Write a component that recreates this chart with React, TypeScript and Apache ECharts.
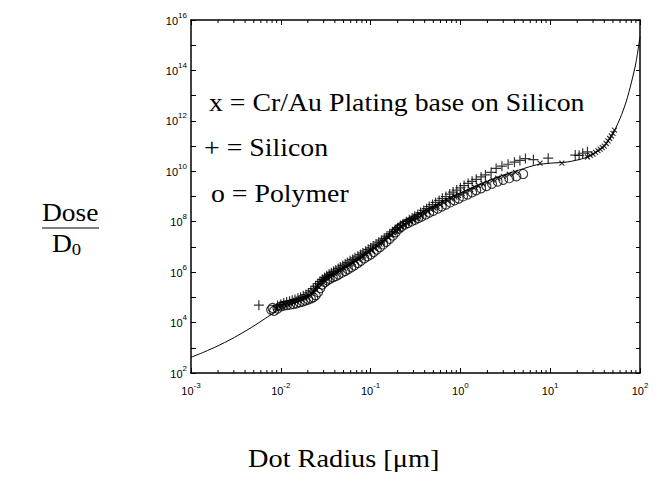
import React, { useEffect, useRef } from "react";
import * as echarts from "echarts";

// Solid curve (Dot radius [µm], Dose/D0)
const curveX = [0.001, 0.0014, 0.002, 0.0028, 0.004, 0.0056, 0.008, 0.01, 0.014, 0.02, 0.025, 0.03, 0.04, 0.05, 0.07, 0.1, 0.14, 0.2, 0.3, 0.5, 0.7, 1, 1.5, 2, 3, 5, 7, 10, 15, 20, 25, 30, 40, 50, 60, 70, 80, 90, 100];
const curveY = [4.2e2, 6.8e2, 1.2e3, 2.2e3, 4.5e3, 9.5e3, 2.2e4, 3.5e4, 5.8e4, 1e5, 1.9e5, 3.8e5, 8e5, 1.4e6, 2.8e6, 7e6, 1.8e7, 5.6e7, 1.4e8, 4e8, 8e8, 1.4e9, 2.6e9, 4e9, 7e9, 1.26e10, 1.8e10, 2.1e10, 2.3e10, 2.8e10, 3.5e10, 4.8e10, 1e11, 3.2e11, 1.26e12, 5.6e12, 3.2e13, 2e14, 2.2e15];

// x = Cr/Au Plating base on Silicon
const crAuX = [0.0088, 0.0095, 0.0102, 0.011, 0.0118, 0.0127, 0.0136, 0.0146, 0.0157, 0.0168, 0.018, 0.0192, 0.0205, 0.0218, 0.023, 0.0243, 0.0256, 0.027, 0.0285, 0.03, 0.0316, 0.0333, 0.035, 0.037, 0.039, 0.041, 0.044, 0.047, 0.05, 0.053, 0.056, 0.06, 0.064, 0.068, 0.073, 0.078, 0.083, 0.089, 0.095, 0.102, 0.11, 0.118, 0.127, 0.136, 0.146, 0.157, 0.168, 0.18, 0.193, 0.207, 0.222, 0.238, 0.255, 0.275, 0.295, 0.32, 0.345, 0.37, 0.4, 0.43, 0.47, 0.51, 0.55, 0.6, 0.66, 0.72, 0.79, 0.87, 0.95, 1.05, 1.15, 1.3, 1.45, 1.6, 1.8, 2.0, 2.3, 2.6, 3.0, 3.5, 4.1, 7.7, 13.5, 26, 28, 30, 32, 34, 36, 38, 40, 42, 44, 46, 48, 50, 52];
const crAuY = [3.8e4, 4.3e4, 4.6e4, 5.2e4, 5.5e4, 6e4, 6.6e4, 7.2e4, 7.8e4, 8.6e4, 9.5e4, 1.05e5, 1.2e5, 1.45e5, 1.75e5, 2.2e5, 2.8e5, 3.5e5, 4.2e5, 5e5, 5.8e5, 6.5e5, 7.2e5, 8e5, 9e5, 1e6, 1.15e6, 1.3e6, 1.45e6, 1.65e6, 1.85e6, 2.1e6, 2.4e6, 2.8e6, 3.2e6, 3.8e6, 4.4e6, 5.2e6, 6.2e6, 7.2e6, 8.8e6, 1.05e7, 1.3e7, 1.55e7, 1.9e7, 2.4e7, 2.9e7, 3.6e7, 4.4e7, 5.4e7, 6.4e7, 7.6e7, 8.8e7, 1.02e8, 1.18e8, 1.35e8, 1.55e8, 1.8e8, 2.1e8, 2.5e8, 3e8, 3.5e8, 4.1e8, 4.8e8, 5.8e8, 6.8e8, 8e8, 9.5e8, 1.1e9, 1.3e9, 1.55e9, 1.9e9, 2.3e9, 2.7e9, 3.2e9, 3.7e9, 4.5e9, 5.3e9, 6.3e9, 7.6e9, 9e9, 2.1e10, 2.1e10, 3.7e10, 4.3e10, 4.8e10, 5.6e10, 6.6e10, 7.6e10, 8.7e10, 1e11, 1.26e11, 1.6e11, 2e11, 2.5e11, 3.2e11, 4.3e11];

// + = Silicon
const siX = [0.0057, 0.0092, 0.01, 0.0108, 0.0116, 0.0125, 0.0134, 0.0144, 0.0155, 0.0166, 0.0178, 0.019, 0.0203, 0.0216, 0.023, 0.0244, 0.0258, 0.0273, 0.029, 0.0307, 0.0325, 0.0345, 0.0365, 0.0387, 0.041, 0.0435, 0.046, 0.049, 0.052, 0.055, 0.059, 0.063, 0.067, 0.072, 0.077, 0.082, 0.088, 0.094, 0.1, 0.107, 0.115, 0.123, 0.132, 0.142, 0.152, 0.163, 0.175, 0.188, 0.2, 0.215, 0.23, 0.25, 0.27, 0.29, 0.31, 0.335, 0.36, 0.39, 0.42, 0.45, 0.49, 0.53, 0.58, 0.63, 0.69, 0.76, 0.83, 0.91, 1.0, 1.1, 1.22, 1.35, 1.5, 1.7, 1.9, 2.2, 2.5, 2.9, 3.4, 4.0, 4.6, 5.3, 6.5, 9.5, 19, 21, 23, 26];
const siY = [4.9e4, 4.8e4, 5.3e4, 6e4, 6.5e4, 7e4, 7.6e4, 8.3e4, 9.2e4, 1.02e5, 1.15e5, 1.3e5, 1.5e5, 1.8e5, 2.2e5, 2.8e5, 3.5e5, 4.3e5, 5.2e5, 6.2e5, 7.2e5, 8.3e5, 9.5e5, 1.08e6, 1.22e6, 1.4e6, 1.6e6, 1.85e6, 2.1e6, 2.4e6, 2.8e6, 3.2e6, 3.7e6, 4.3e6, 5e6, 5.8e6, 6.8e6, 8e6, 9.2e6, 1.1e7, 1.3e7, 1.55e7, 1.85e7, 2.2e7, 2.7e7, 3.3e7, 4e7, 4.9e7, 5.8e7, 7e7, 8.3e7, 1e8, 1.2e8, 1.4e8, 1.65e8, 1.95e8, 2.3e8, 2.8e8, 3.3e8, 4e8, 4.8e8, 5.8e8, 7e8, 8.5e8, 1e9, 1.25e9, 1.5e9, 1.8e9, 2.2e9, 2.7e9, 3.3e9, 4e9, 4.8e9, 6e9, 7.2e9, 9e9, 1.3e10, 1.6e10, 1.9e10, 2.3e10, 2.7e10, 3.2e10, 2.9e10, 3.3e10, 4.4e10, 4.3e10, 5.2e10, 5.9e10];

// o = Polymer
const polyX = [0.0078, 0.0081, 0.0084, 0.0092, 0.01, 0.0108, 0.0117, 0.0127, 0.0138, 0.015, 0.0162, 0.0175, 0.0188, 0.0202, 0.0216, 0.023, 0.0245, 0.026, 0.0275, 0.029, 0.031, 0.033, 0.035, 0.038, 0.041, 0.044, 0.048, 0.052, 0.056, 0.061, 0.066, 0.072, 0.078, 0.085, 0.092, 0.1, 0.108, 0.117, 0.127, 0.138, 0.15, 0.163, 0.177, 0.19, 0.205, 0.22, 0.24, 0.26, 0.285, 0.31, 0.34, 0.37, 0.41, 0.45, 0.5, 0.56, 0.62, 0.69, 0.77, 0.86, 0.96, 1.07, 1.2, 1.35, 1.5, 1.7, 1.95, 2.25, 2.6, 3.0, 3.5, 4.2, 5.0];
const polyY = [3.2e4, 3.8e4, 2.9e4, 3.6e4, 4.4e4, 4.7e4, 4.9e4, 5.1e4, 5.4e4, 5.8e4, 6.3e4, 6.8e4, 7.4e4, 8.2e4, 9e4, 1e5, 1.2e5, 1.6e5, 2.3e5, 3.2e5, 4e5, 4.7e5, 5.4e5, 6.2e5, 7e5, 8e5, 9.5e5, 1.1e6, 1.3e6, 1.55e6, 1.85e6, 2.3e6, 2.8e6, 3.5e6, 4.2e6, 5e6, 6.2e6, 7.8e6, 9.8e6, 1.25e7, 1.6e7, 2.1e7, 2.8e7, 3.8e7, 5.2e7, 6.3e7, 7.6e7, 8.8e7, 1.02e8, 1.18e8, 1.38e8, 1.6e8, 1.9e8, 2.3e8, 2.7e8, 3.3e8, 4e8, 4.8e8, 5.8e8, 7e8, 8.3e8, 1e9, 1.2e9, 1.45e9, 1.75e9, 2.1e9, 2.6e9, 3.2e9, 3.9e9, 4.6e9, 5.3e9, 6.3e9, 7.8e9];

const xMin = 1e-3;
const xMax = 1e2;
const yMin = 1e2;
const yMax = 1e16;
const xDecades = [-3, -2, -1, 0, 1, 2];
const minorMultipliers = [2, 3, 4, 5, 6, 7, 8, 9];

const legendLines = ["x = Cr/Au Plating base on Silicon", "+ = Silicon", "o = Polymer"];
const yTitleTop = "Dose";
const yTitleBottom = "D";
const yTitleSub = "0";
const xTitle = "Dot Radius [\u03bcm]";

const SANS = "'Liberation Sans', Arial, Helvetica, sans-serif";
const SERIF = "'Liberation Serif', 'Times New Roman', Times, serif";

function zip(xs: number[], ys: number[]) {
  return xs.map((x, i) => [x, ys[i]]);
}

function expLabel(v: number, evenOnly: boolean) {
  const e = Math.round(Math.log10(v));
  if (evenOnly && e % 2 !== 0) return "";
  return `{b|10}{s|${e}}`;
}

const richLabel = {
  b: { fontSize: 11, fontFamily: SANS, color: "#000", verticalAlign: "bottom", lineHeight: 12 },
  s: { fontSize: 8, fontFamily: SANS, color: "#000", verticalAlign: "bottom", padding: [0, 0, 7, 0], lineHeight: 9 },
};

export default function App() {
  const ref = useRef<HTMLDivElement>(null);

  useEffect(() => {
    if (!ref.current) return;
    const chart = echarts.init(ref.current, undefined, { renderer: "svg" });

    const minorTicks: number[][] = [];
    xDecades.slice(0, -1).forEach((d) => {
      minorMultipliers.forEach((m) => minorTicks.push([m * Math.pow(10, d)]));
    });

    const axisLine = { show: true, lineStyle: { color: "#000", width: 1.5 } };
    const tick = (len: number) => ({ show: true, inside: true, length: len, lineStyle: { color: "#000", width: 1 } });

    const option: any = {
      animation: false,
      backgroundColor: "#fff",
      grid: { left: 191, right: 20, top: 20, bottom: 112, containLabel: false },
      xAxis: [
        {
          type: "log", logBase: 10, min: xMin, max: xMax, interval: 1, splitNumber: 5,
          position: "bottom", axisLine, axisTick: tick(5), splitLine: { show: false },
          axisLabel: { color: "#000", margin: 11, formatter: (v: number) => expLabel(v, false), rich: richLabel },
        },
        {
          type: "log", logBase: 10, min: xMin, max: xMax, interval: 1, splitNumber: 5,
          position: "top", axisLine, axisTick: tick(5), splitLine: { show: false }, axisLabel: { show: false },
        },
      ],
      yAxis: [
        {
          type: "log", logBase: 10, min: yMin, max: yMax, interval: 1, splitNumber: 14,
          position: "left", axisLine, axisTick: tick(5), splitLine: { show: false },
          axisLabel: { color: "#000", margin: 4, formatter: (v: number) => expLabel(v, true), rich: richLabel },
        },
        {
          type: "log", logBase: 10, min: yMin, max: yMax, interval: 1, splitNumber: 14,
          position: "right", axisLine, axisTick: tick(4), splitLine: { show: false }, axisLabel: { show: false },
        },
      ],
      series: [
        {
          type: "custom",
          xAxisIndex: 0,
          yAxisIndex: 0,
          silent: true,
          data: minorTicks,
          renderItem: (params: any, api: any) => {
            const cs = params.coordSys;
            const x = api.coord([api.value(0), yMin])[0];
            const bottom = cs.y + cs.height;
            const top = cs.y;
            return {
              type: "group",
              children: [
                { type: "line", shape: { x1: x, y1: bottom, x2: x, y2: bottom - 3 }, style: { stroke: "#000", lineWidth: 1 } },
                { type: "line", shape: { x1: x, y1: top, x2: x, y2: top + 3 }, style: { stroke: "#000", lineWidth: 1 } },
              ],
            };
          },
          z: 3,
        },
        {
          name: "curve",
          type: "line",
          data: zip(curveX, curveY),
          showSymbol: false,
          smooth: 0.3,
          lineStyle: { color: "#000", width: 1 },
          z: 2,
        },
        {
          name: "Cr/Au Plating base on Silicon",
          type: "scatter",
          data: zip(crAuX, crAuY),
          symbol: "path://M0,0L10,10M10,0L0,10",
          symbolSize: 5,
          itemStyle: { color: "transparent", borderColor: "#000", borderWidth: 1.2 },
          z: 4,
        },
        {
          name: "Silicon",
          type: "scatter",
          data: zip(siX, siY),
          symbol: "path://M5,0L5,10M0,5L10,5",
          symbolSize: 10,
          itemStyle: { color: "transparent", borderColor: "#000", borderWidth: 1.2 },
          z: 4,
        },
        {
          name: "Polymer",
          type: "scatter",
          data: zip(polyX, polyY),
          symbol: "circle",
          symbolSize: 9,
          itemStyle: { color: "transparent", borderColor: "#000", borderWidth: 1.1 },
          z: 4,
        },
      ],
      graphic: [
        { type: "text", x: 209, y: 89, scaleX: 1.07, style: { text: legendLines[0], font: `26px ${SERIF}`, fill: "#000" } },
        { type: "text", x: 204, y: 134, scaleX: 1.07, style: { text: legendLines[1], font: `26px ${SERIF}`, fill: "#000" } },
        { type: "text", x: 211, y: 180, scaleX: 1.07, style: { text: legendLines[2], font: `26px ${SERIF}`, fill: "#000" } },
        { type: "text", x: 42, y: 200, scaleX: 1.1, style: { text: yTitleTop, font: `25px ${SERIF}`, fill: "#000" } },
        { type: "line", shape: { x1: 42, y1: 228, x2: 99, y2: 228 }, style: { stroke: "#000", lineWidth: 1.2 } },
        {
          type: "text",
          x: 52,
          y: 231,
          scaleX: 1.1,
          style: {
            text: `{d|${yTitleBottom}}{o|${yTitleSub}}`,
            rich: {
              d: { font: `25px ${SERIF}`, fill: "#000", verticalAlign: "bottom" },
              o: { font: `17px ${SERIF}`, fill: "#000", verticalAlign: "bottom", padding: [0, 0, -2, 0] },
            },
          },
        },
        { type: "text", x: 248, y: 445, scaleX: 1.09, style: { text: xTitle, font: `26px ${SERIF}`, fill: "#000" } },
      ],
    };

    chart.setOption(option);
    return () => chart.dispose();
  }, []);

  return (
    <div
      ref={ref}
      style={{ position: "absolute", left: 0, top: 0, width: 660, height: 485, background: "#fff" }}
    />
  );
}
